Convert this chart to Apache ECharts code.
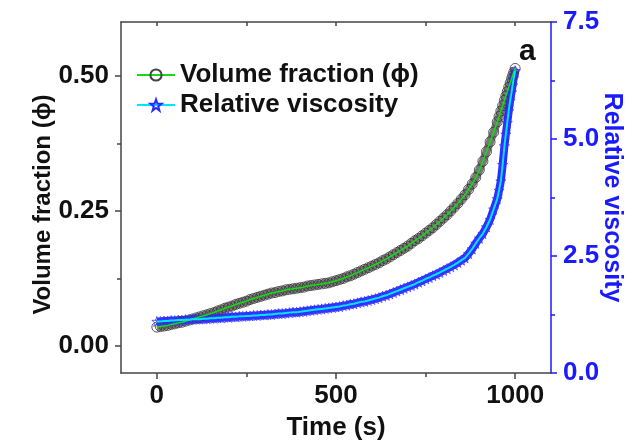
<!DOCTYPE html>
<html><head><meta charset="utf-8">
<script src="https://cdn.jsdelivr.net/npm/echarts@6/dist/echarts.min.js"></script>
<style>html,body{margin:0;padding:0;background:#fff}#c{width:633px;height:443px}</style>
</head><body><div id="c"></div>
<script>
// time (s)
const times = [0,10,20,30,40,50,60,70,80,90,100,110,120,130,140,150,160,170,180,190,200,210,220,230,240,250,260,270,280,290,300,310,320,330,340,350,360,370,380,390,400,410,420,430,440,450,460,470,480,490,500,510,520,530,540,550,560,570,580,590,600,610,620,630,640,650,660,670,680,690,700,710,720,730,740,750,760,770,780,790,800,810,820,830,840,850,860,870,880,890,900,910,920,930,940,950,955,960,965,970,974,978,982,986,990,993,996,1000];
// volume fraction (phi), left axis
const volumeFraction = [0.035,0.036,0.037,0.038,0.040,0.041,0.043,0.044,0.046,0.048,0.050,0.052,0.054,0.056,0.058,0.060,0.062,0.065,0.067,0.070,0.072,0.074,0.077,0.079,0.081,0.083,0.086,0.088,0.090,0.092,0.094,0.096,0.098,0.099,0.101,0.102,0.104,0.105,0.106,0.107,0.108,0.109,0.111,0.112,0.113,0.114,0.115,0.116,0.117,0.119,0.121,0.123,0.125,0.128,0.130,0.133,0.136,0.139,0.142,0.145,0.148,0.151,0.154,0.158,0.161,0.165,0.169,0.173,0.177,0.181,0.185,0.190,0.195,0.199,0.204,0.209,0.214,0.219,0.225,0.231,0.237,0.243,0.250,0.257,0.264,0.272,0.280,0.290,0.300,0.312,0.326,0.342,0.360,0.378,0.396,0.415,0.425,0.435,0.445,0.455,0.463,0.471,0.479,0.487,0.495,0.501,0.507,0.514];
// relative viscosity, right axis
const relViscosity = [1.10,1.10,1.11,1.11,1.12,1.12,1.13,1.13,1.14,1.14,1.15,1.15,1.15,1.16,1.16,1.17,1.17,1.18,1.18,1.19,1.19,1.20,1.20,1.21,1.21,1.22,1.22,1.23,1.23,1.24,1.24,1.25,1.25,1.26,1.27,1.27,1.28,1.29,1.30,1.30,1.31,1.32,1.33,1.34,1.35,1.36,1.37,1.38,1.39,1.40,1.41,1.42,1.44,1.45,1.47,1.48,1.50,1.52,1.53,1.55,1.57,1.59,1.61,1.64,1.66,1.69,1.72,1.75,1.78,1.81,1.84,1.87,1.90,1.94,1.97,2.01,2.04,2.08,2.11,2.15,2.19,2.23,2.27,2.31,2.36,2.41,2.46,2.55,2.65,2.77,2.88,2.98,3.12,3.28,3.50,3.72,3.90,4.10,4.45,4.85,5.10,5.35,5.60,5.82,6.00,6.15,6.30,6.46];

const xMajor = [0,500,1000], xMinor = [250,750], xTop = [0,250,500,750,1000];
const yLeftMajor = [0,0.25,0.5], yLeftMinor = [0.125,0.375];
const yRightMajor = [0,2.5,5,7.5], yRightMinor = [1.25,3.75,6.25];
const names = {phi:'Volume fraction (\u03d5)', eta:'Relative viscosity', x:'Time (s)'};

const FONT = '"Liberation Sans", Arial, sans-serif';
const BLUE = '#1a1aff';
const FRAME = '#444';
const starPath = 'path://M0,-10L2.35,-3.24L9.51,-3.09L3.8,1.24L5.88,8.09L0,4L-5.88,8.09L-3.8,1.24L-9.51,-3.09L-2.35,-3.24Z';

const phiPts = times.map((t,i)=>[t,volumeFraction[i]]);
const etaPts = times.map((t,i)=>[t,relViscosity[i]]);

const lbl = (c,s)=>({fontFamily:FONT,fontWeight:'bold',fontSize:s||26,color:c});
const xBase = {type:'value',min:-100,max:1100,splitLine:{show:false}};
const noZero = (ls)=>({show:true,onZero:false,lineStyle:ls});
const chart = echarts.init(document.getElementById('c'),null,{renderer:'canvas'});
chart.setOption({
  animation:false,
  backgroundColor:'#fff',
  grid:{left:121,right:82,top:22,bottom:70,containLabel:false,outerBoundsMode:'none'},
  legend:{
    data:[names.phi,names.eta],
    orient:'vertical', left:131, top:57, itemWidth:38, itemHeight:14, itemGap:4,
    textStyle:{fontFamily:FONT,fontWeight:'bold',fontSize:26,color:'#111'},
    selectedMode:false
  },
  xAxis:[
    Object.assign({},xBase,{position:'bottom',name:names.x,nameLocation:'middle',nameGap:42,nameMoveOverlap:false,
      nameTextStyle:lbl('#111'),
      axisLine:noZero({color:FRAME,width:1.5}),
      axisTick:{inside:false,length:6,customValues:xMajor,lineStyle:{color:FRAME,width:1.5}},
      axisLabel:Object.assign(lbl('#111'),{margin:10,customValues:xMajor,formatter:v=>String(v)})}),
    Object.assign({},xBase,{position:'bottom',
      axisLine:{show:false,onZero:false},
      axisTick:{inside:false,length:4,customValues:xMinor,lineStyle:{color:FRAME,width:1.5}},
      axisLabel:{show:false}}),
    Object.assign({},xBase,{position:'top',
      axisLine:noZero({color:FRAME,width:1.5}),
      axisTick:{inside:true,length:4,customValues:xTop,lineStyle:{color:FRAME,width:1.5}},
      axisLabel:{show:false}})
  ],
  yAxis:[
    {type:'value',position:'left',min:-0.05,max:0.6,splitLine:{show:false},
      name:names.phi,nameLocation:'middle',nameGap:66,nameRotate:90,nameMoveOverlap:false,
      nameTextStyle:Object.assign(lbl('#111',24),{padding:[0,14,0,0]}),
      axisLine:noZero({color:FRAME,width:1.5}),
      axisTick:{inside:false,length:6,customValues:yLeftMajor,lineStyle:{color:FRAME,width:1.5}},
      axisLabel:Object.assign(lbl('#111'),{margin:12,customValues:yLeftMajor,formatter:v=>v.toFixed(2)})},
    {type:'value',position:'left',min:-0.05,max:0.6,splitLine:{show:false},
      axisLine:{show:false,onZero:false},
      axisTick:{inside:false,length:4,customValues:yLeftMinor,lineStyle:{color:FRAME,width:1.5}},
      axisLabel:{show:false}},
    {type:'value',position:'right',min:0,max:7.5,splitLine:{show:false},
      name:names.eta,nameLocation:'middle',nameGap:48,nameRotate:-90,nameMoveOverlap:false,
      nameTextStyle:lbl(BLUE,25),
      axisLine:noZero({color:BLUE,width:1.5}),
      axisTick:{inside:false,length:6,customValues:yRightMajor,lineStyle:{color:BLUE,width:1.5}},
      axisLabel:Object.assign(lbl(BLUE),{margin:12,customValues:yRightMajor,formatter:v=>v.toFixed(1)})},
    {type:'value',position:'right',min:0,max:7.5,splitLine:{show:false},
      axisLine:{show:false,onZero:false},
      axisTick:{inside:false,length:4,customValues:yRightMinor,lineStyle:{color:BLUE,width:1.5}},
      axisLabel:{show:false}}
  ],
  series:[
    {type:'line',name:'phi-band',xAxisIndex:0,yAxisIndex:0,data:phiPts,showSymbol:false,
      lineStyle:{color:'#777',width:8},z:1,silent:true},
    {type:'line',name:'eta-band',xAxisIndex:0,yAxisIndex:2,data:etaPts,showSymbol:false,
      lineStyle:{color:'#2b2bff',width:8},z:1,silent:true},
    {type:'scatter',name:'phi-markers',xAxisIndex:0,yAxisIndex:0,data:phiPts,symbol:'circle',symbolSize:10,
      itemStyle:{color:'rgba(255,255,255,0)',borderColor:'#333',borderWidth:1},z:2},
    {type:'scatter',name:'eta-markers',xAxisIndex:0,yAxisIndex:2,data:etaPts,symbol:starPath,symbolSize:10,
      itemStyle:{color:'rgba(255,255,255,0)',borderColor:'#3a3aff',borderWidth:1},z:2},
    {type:'line',name:names.phi,xAxisIndex:0,yAxisIndex:0,data:phiPts,showSymbol:false,symbol:'circle',symbolSize:10,
      itemStyle:{color:'rgba(255,255,255,0)',borderColor:'#444',borderWidth:1},
      lineStyle:{color:'#11dd11',width:1.5},z:3},
    {type:'line',name:names.eta,xAxisIndex:0,yAxisIndex:2,data:etaPts,showSymbol:false,symbol:starPath,symbolSize:10,
      itemStyle:{color:'rgba(255,255,255,0)',borderColor:'#2a2aff',borderWidth:1},
      lineStyle:{color:'#00e5ff',width:2},z:3}
  ],
  graphic:[{type:'text',left:519,top:37,style:{text:'a',fontFamily:FONT,fontWeight:'bold',fontSize:30,fill:'#111'}}]
});
</script></body></html>
